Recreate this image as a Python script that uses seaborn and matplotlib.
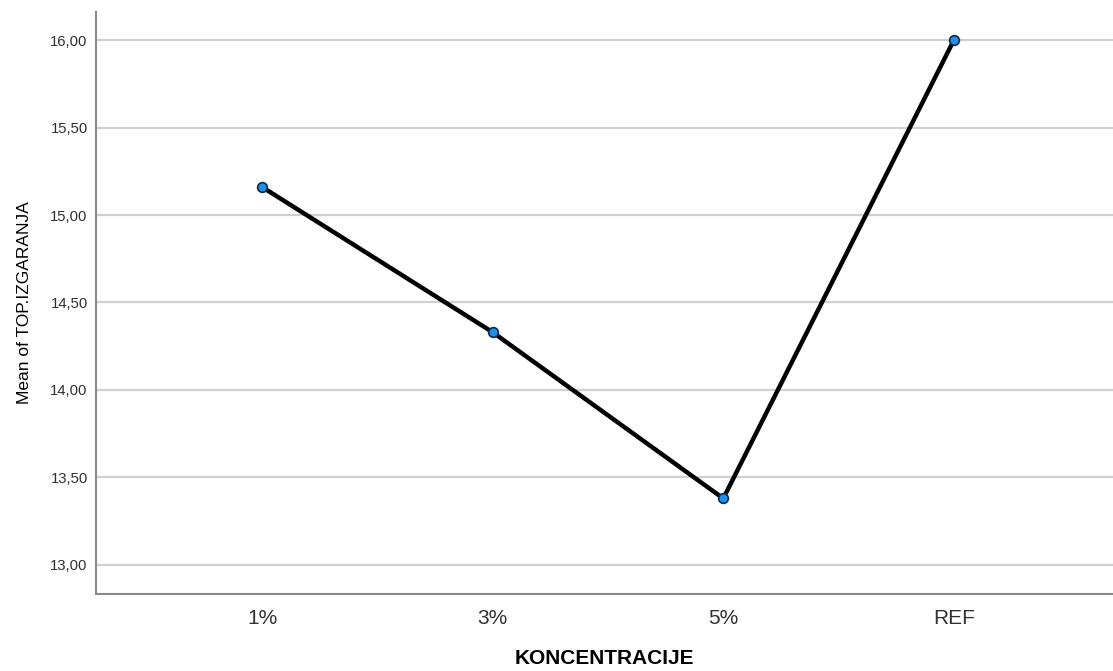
import matplotlib
matplotlib.use("Agg")
from matplotlib import pyplot as plt
import pandas as pd
import seaborn as sns

# data
koncentracije = ["1%", "3%", "5%", "REF"]
mean_top_izgaranja = [15.16, 14.33, 13.38, 16.00]
y_ticks = [13.0, 13.5, 14.0, 14.5, 15.0, 15.5, 16.0]

df = pd.DataFrame({"KONCENTRACIJE": koncentracije,
                   "Mean of TOP.IZGARANJA": mean_top_izgaranja})

sns.set_style("white")
plt.rcParams['font.family'] = ['Liberation Sans', 'DejaVu Sans']

fig = plt.figure(figsize=(11.13, 6.71), dpi=100)
ax = fig.add_axes([0.0863, 0.1148, 0.9137, 0.8672])

for y in y_ticks:
    ax.axhline(y, color="#d0d0d0", linewidth=1.6, zorder=0)

sns.lineplot(data=df, x="KONCENTRACIJE", y="Mean of TOP.IZGARANJA",
             sort=False, color="black", linewidth=3.2, marker="o",
             markersize=7, markerfacecolor="#1f8fe8",
             markeredgecolor="#0a2a4a", markeredgewidth=1.2, ax=ax)

ax.set_xlim(-0.72, 3.69)
ax.set_ylim(12.834, 16.16)
ax.set_yticks(y_ticks)
ax.set_yticklabels([f"{v:.2f}".replace(".", ",") for v in y_ticks],
                   fontsize=10.7, color="#303030")
ax.tick_params(axis="x", labelsize=15, colors="#303030", length=0, pad=11)
ax.tick_params(axis="y", length=0, pad=6)

for side in ["top", "right"]:
    ax.spines[side].set_visible(False)
for side in ["left", "bottom"]:
    ax.spines[side].set_color("#8a8a8a")
    ax.spines[side].set_linewidth(1.5)

ax.set_xlabel("KONCENTRACIJE", fontsize=15, fontweight="bold",
              color="black", labelpad=15)
ax.set_ylabel("Mean of TOP.IZGARANJA", fontsize=12.5, color="black",
              labelpad=13)

fig.savefig("out.png", dpi=100)
